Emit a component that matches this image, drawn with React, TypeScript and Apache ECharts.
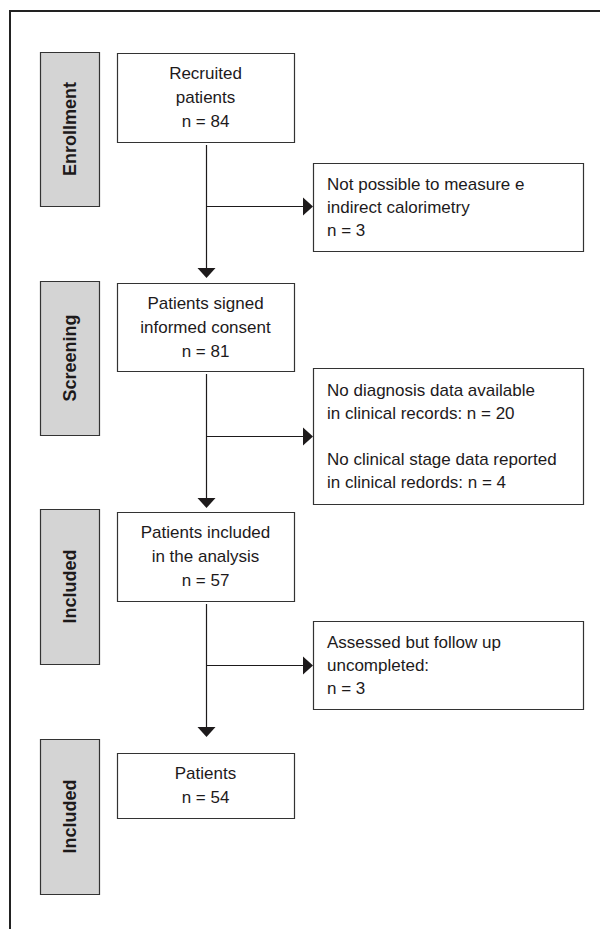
import React, { useEffect, useRef } from "react";
import * as echarts from "echarts";

// ---- data ----
const stageLabels = ["Enrollment", "Screening", "Included", "Included"];
const mainLabels = ["Recruited\npatients", "Patients signed\ninformed consent", "Patients included\nin the analysis", "Patients"];
const mainCounts = [84, 81, 57, 54];
const exclusionLabels = [
  "Not possible to measure e\nindirect calorimetry",
  "No diagnosis data available\nin clinical records: n = 20\n\nNo clinical stage data reported\nin clinical redords: n = 4",
  "Assessed but follow up\nuncompleted:",
];
const exclusionCounts = [3, null, 3];

// ---- layout (pixels) ----
const MAIN_X0 = 117, MAIN_X1 = 294;
const STAGE_X0 = 40, STAGE_X1 = 99;
const SIDE_X0 = 313, SIDE_X1 = 583;
const mainY = [[53, 142], [283, 371], [512, 601], [753, 818]];
const stageY = [[52, 206], [281, 435], [509, 664], [739, 894]];
const sideY = [[163, 251], [368, 504], [621, 709]];
const branchY = [206, 436, 665];
const tipY = [278, 508, 737];
const LINE_X = 206;

const INK = "#1d1a1b";
const BORDER = "#333333";
const FONT = "'Liberation Sans', Arial, sans-serif";

export default function App() {
  const ref = useRef<HTMLDivElement>(null);
  useEffect(() => {
    const chart = echarts.init(ref.current!, null, { renderer: "svg" });
    const els: any[] = [];
    // outer frame (top + left only)
    els.push({ type: "line", shape: { x1: 10, y1: 11, x2: 600, y2: 11 }, style: { stroke: "#222", lineWidth: 2 } });
    els.push({ type: "line", shape: { x1: 10, y1: 10, x2: 10, y2: 929 }, style: { stroke: "#222", lineWidth: 2 } });

    stageLabels.forEach((lab, i) => {
      const [y0, y1] = stageY[i];
      els.push({
        type: "rect",
        shape: { x: STAGE_X0 + 0.5, y: y0 + 0.5, width: STAGE_X1 - STAGE_X0, height: y1 - y0 },
        style: { fill: "#d4d4d4", stroke: BORDER, lineWidth: 1.2 },
      });
      els.push({
        type: "text",
        x: (STAGE_X0 + STAGE_X1) / 2 + 0.5,
        y: (y0 + y1) / 2,
        rotation: Math.PI / 2,
        style: { text: lab, font: `bold 18px ${FONT}`, fill: INK, align: "center", verticalAlign: "middle" },
      });
    });

    mainLabels.forEach((lab, i) => {
      const [y0, y1] = mainY[i];
      els.push({
        type: "rect",
        shape: { x: MAIN_X0 + 0.5, y: y0 + 0.5, width: MAIN_X1 - MAIN_X0, height: y1 - y0 },
        style: { fill: "#fff", stroke: BORDER, lineWidth: 1.2 },
      });
      els.push({
        type: "text",
        x: (MAIN_X0 + MAIN_X1) / 2,
        y: (y0 + y1) / 2,
        style: {
          text: `${lab}\nn = ${mainCounts[i]}`,
          font: `17px ${FONT}`, fill: INK, align: "center", verticalAlign: "middle", lineHeight: 24,
        },
      });
    });

    exclusionLabels.forEach((lab, i) => {
      const [y0, y1] = sideY[i];
      els.push({
        type: "rect",
        shape: { x: SIDE_X0 + 0.5, y: y0 + 0.5, width: SIDE_X1 - SIDE_X0, height: y1 - y0 },
        style: { fill: "#fff", stroke: BORDER, lineWidth: 1.2 },
      });
      const c = exclusionCounts[i];
      els.push({
        type: "text",
        x: SIDE_X0 + 14,
        y: (y0 + y1) / 2,
        style: {
          text: c == null ? lab : `${lab}\nn = ${c}`,
          font: `17px ${FONT}`, fill: INK, align: "left", verticalAlign: "middle", lineHeight: 23,
        },
      });
    });

    // connectors
    for (let i = 0; i < 3; i++) {
      const yStart = mainY[i][1] + 3;
      const tip = tipY[i];
      els.push({ type: "line", shape: { x1: LINE_X + 0.5, y1: yStart, x2: LINE_X + 0.5, y2: tip - 8 }, style: { stroke: INK, lineWidth: 1.2 } });
      els.push({ type: "polygon", shape: { points: [[LINE_X - 8.5, tip - 10], [LINE_X + 9.5, tip - 10], [LINE_X + 0.5, tip]] }, style: { fill: INK } });
      const by = branchY[i];
      els.push({ type: "line", shape: { x1: LINE_X + 0.5, y1: by + 0.5, x2: SIDE_X0 - 8, y2: by + 0.5 }, style: { stroke: INK, lineWidth: 1.2 } });
      els.push({ type: "polygon", shape: { points: [[SIDE_X0 - 10, by - 8.5], [SIDE_X0 - 10, by + 9.5], [SIDE_X0, by + 0.5]] }, style: { fill: INK } });
    }

    chart.setOption({ animation: false, backgroundColor: "#fff", graphic: { elements: els } });
    return () => chart.dispose();
  }, []);
  return <div ref={ref} style={{ position: "fixed", left: 0, top: 0, width: 600, height: 929 }} />;
}
